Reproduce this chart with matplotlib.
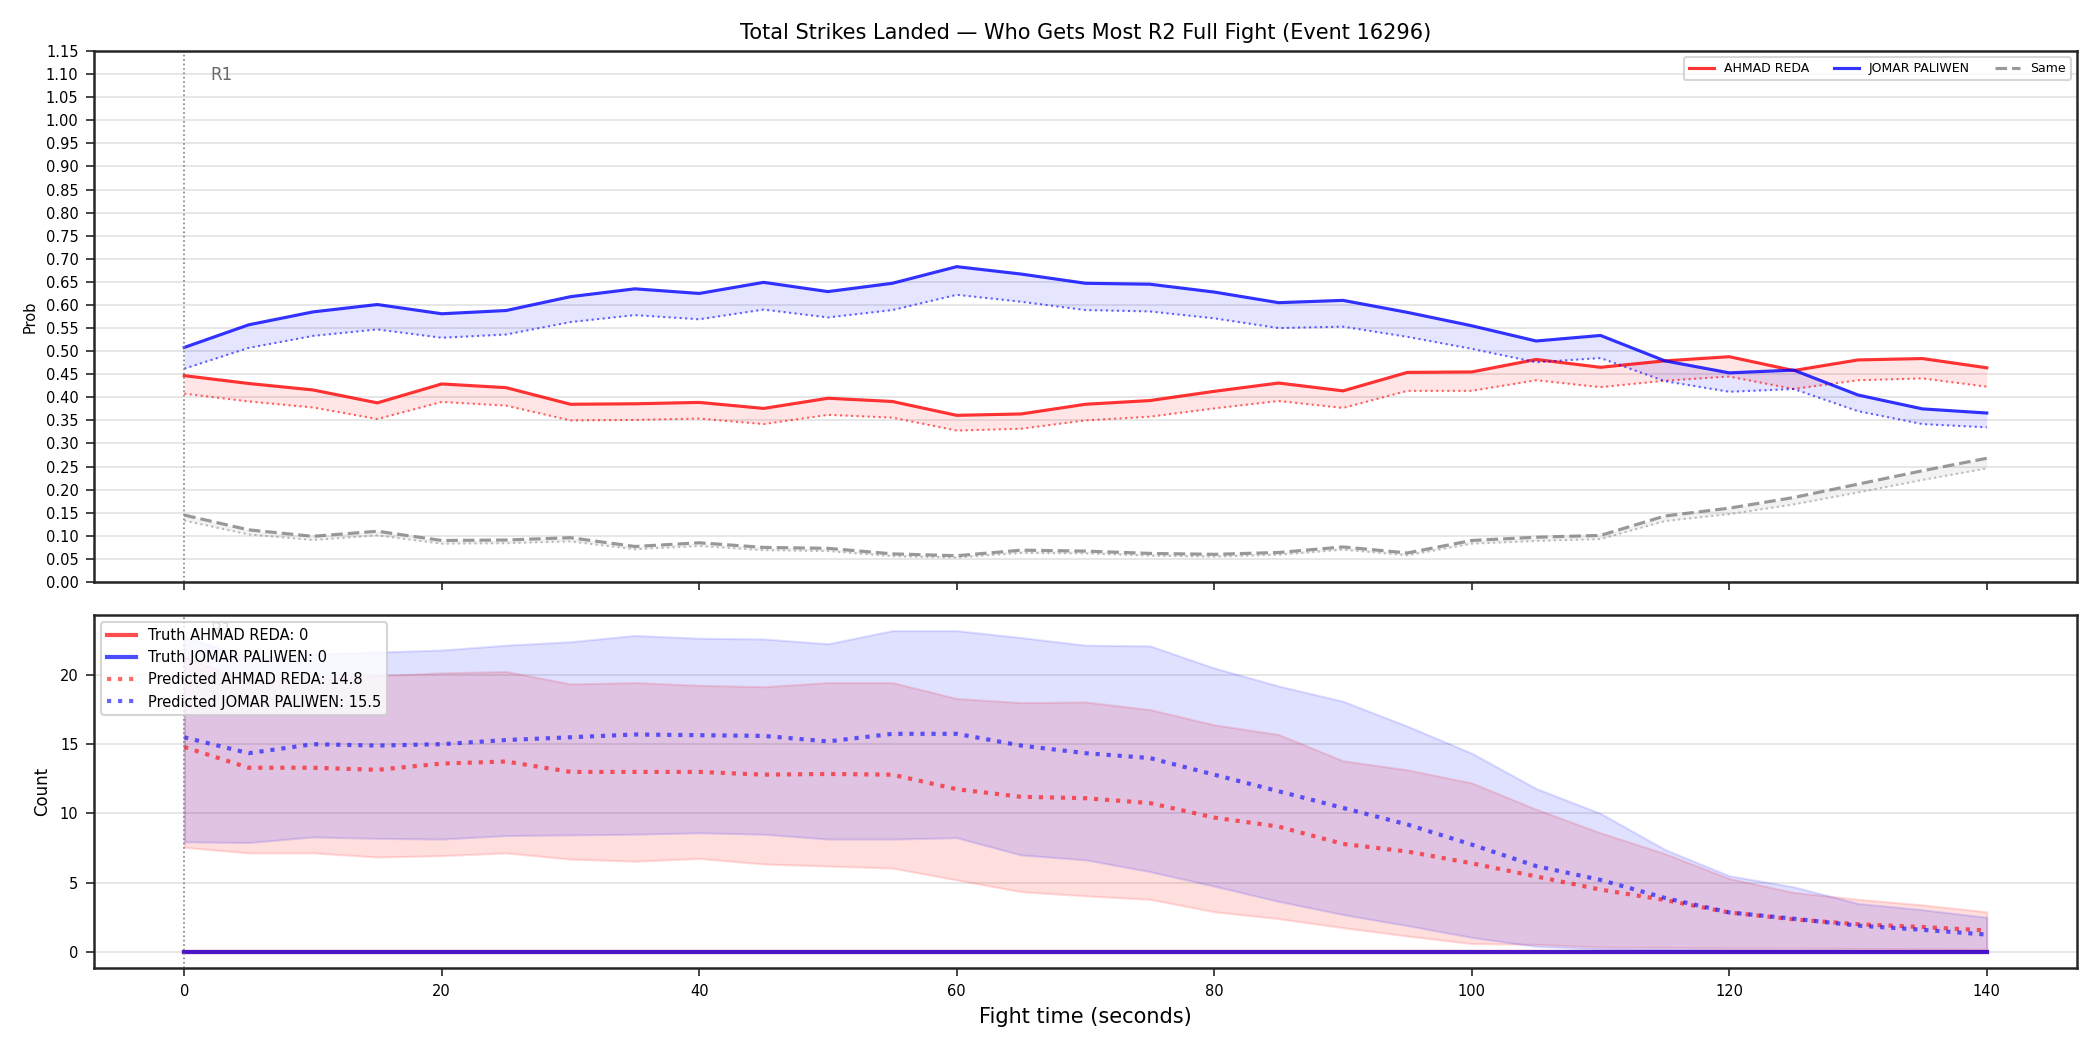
import matplotlib
matplotlib.use("Agg")
import matplotlib.pyplot as plt
import matplotlib.transforms as mtransforms
import numpy as np

# ---------------- data ----------------
t = list(range(0, 145, 5))

red_truth_prob = [0.447, 0.430, 0.416, 0.388, 0.429, 0.421, 0.385, 0.386, 0.389, 0.376,
                  0.398, 0.391, 0.361, 0.364, 0.385, 0.393, 0.413, 0.431, 0.414, 0.454,
                  0.455, 0.482, 0.465, 0.479, 0.488, 0.458, 0.481, 0.484, 0.464]
red_pred_prob = [0.408, 0.391, 0.378, 0.353, 0.390, 0.382, 0.350, 0.351, 0.354, 0.342,
                 0.362, 0.356, 0.328, 0.332, 0.350, 0.358, 0.376, 0.392, 0.377, 0.414,
                 0.414, 0.437, 0.422, 0.436, 0.445, 0.418, 0.437, 0.441, 0.423]
blue_truth_prob = [0.508, 0.557, 0.585, 0.601, 0.581, 0.588, 0.618, 0.635, 0.625, 0.649,
                   0.629, 0.647, 0.683, 0.667, 0.647, 0.645, 0.628, 0.605, 0.610, 0.584,
                   0.555, 0.522, 0.534, 0.479, 0.453, 0.459, 0.405, 0.375, 0.366]
blue_pred_prob = [0.462, 0.507, 0.533, 0.547, 0.529, 0.536, 0.563, 0.578, 0.569, 0.590,
                  0.573, 0.589, 0.622, 0.607, 0.589, 0.586, 0.571, 0.550, 0.553, 0.531,
                  0.505, 0.476, 0.485, 0.435, 0.412, 0.418, 0.370, 0.342, 0.335]
same_truth_prob = [0.145, 0.113, 0.099, 0.110, 0.090, 0.091, 0.096, 0.077, 0.085, 0.075,
                   0.073, 0.061, 0.057, 0.069, 0.067, 0.062, 0.060, 0.064, 0.076, 0.063,
                   0.090, 0.097, 0.101, 0.143, 0.160, 0.183, 0.212, 0.241, 0.268]
same_pred_prob = [0.133, 0.103, 0.091, 0.101, 0.083, 0.084, 0.088, 0.071, 0.078, 0.069,
                  0.067, 0.056, 0.053, 0.063, 0.062, 0.057, 0.055, 0.059, 0.070, 0.058,
                  0.083, 0.089, 0.093, 0.132, 0.147, 0.168, 0.194, 0.221, 0.246]

red_truth_count = [0] * 29
blue_truth_count = [0] * 29
red_pred_count = [14.8, 13.3, 13.3, 13.15, 13.6, 13.75, 13.0, 13.0, 13.0, 12.8,
                  12.85, 12.8, 11.75, 11.2, 11.1, 10.75, 9.7, 9.05, 7.8, 7.25,
                  6.4, 5.45, 4.5, 3.75, 2.85, 2.35, 2.0, 1.8, 1.55]
blue_pred_count = [15.5, 14.35, 15.0, 14.9, 15.0, 15.3, 15.5, 15.7, 15.65, 15.6,
                   15.2, 15.75, 15.75, 14.9, 14.35, 14.0, 12.8, 11.6, 10.4, 9.2,
                   7.75, 6.2, 5.2, 3.9, 2.85, 2.4, 1.9, 1.6, 1.25]
red_upper = [21.3, 19.5, 19.7, 19.95, 20.15, 20.25, 19.35, 19.45, 19.25, 19.15,
             19.45, 19.45, 18.3, 18.0, 18.05, 17.5, 16.4, 15.7, 13.8, 13.15,
             12.2, 10.3, 8.6, 7.1, 5.3, 4.3, 3.8, 3.4, 2.9]
red_lower = [7.55, 7.15, 7.15, 6.85, 6.95, 7.15, 6.7, 6.55, 6.75, 6.35,
             6.2, 6.05, 5.2, 4.35, 4.05, 3.8, 2.9, 2.4, 1.75, 1.15,
             0.6, 0.55, 0.35, 0.33, 0.28, 0.28, 0.25, 0.22, 0.2]
blue_upper = [22.8, 21.2, 21.5, 21.65, 21.8, 22.15, 22.4, 22.85, 22.65, 22.6,
              22.25, 23.2, 23.2, 22.7, 22.15, 22.1, 20.5, 19.2, 18.1, 16.3,
              14.35, 11.8, 10.0, 7.4, 5.5, 4.7, 3.5, 3.05, 2.5]
blue_lower = [7.95, 7.9, 8.3, 8.2, 8.15, 8.4, 8.45, 8.5, 8.6, 8.5,
              8.15, 8.15, 8.25, 7.0, 6.65, 5.8, 4.75, 3.65, 2.7, 1.9,
              1.05, 0.4, 0.2, 0.17, 0.12, 0.11, 0.1, 0.1, 0.1]

yticks_prob = [round(0.05 * i, 2) for i in range(24)]

# ---------------- figure ----------------
fig = plt.figure(figsize=(14, 7), dpi=150)
ax1 = fig.add_axes([0.0448, 0.4457, 0.9442, 0.5057])
ax2 = fig.add_axes([0.0448, 0.0781, 0.9442, 0.3366], sharex=ax1)

spine_c = "#262626"
for ax in (ax1, ax2):
    for s in ax.spines.values():
        s.set_color(spine_c)
        s.set_linewidth(1.2)
    ax.grid(axis="y", color="#e3e3e3", linewidth=0.8)
    ax.set_axisbelow(True)
    ax.tick_params(axis="both", labelsize=7, color=spine_c, length=4)

# ---- top panel ----
ax1.plot(t, red_truth_prob, color="red", alpha=0.8, lw=1.5, label="AHMAD REDA")
ax1.plot(t, red_pred_prob, color="red", alpha=0.6, lw=1.0, ls=":")
ax1.fill_between(t, red_pred_prob, red_truth_prob, color="red", alpha=0.1, lw=0)
ax1.plot(t, blue_truth_prob, color="blue", alpha=0.8, lw=1.5, label="JOMAR PALIWEN")
ax1.plot(t, blue_pred_prob, color="blue", alpha=0.6, lw=1.0, ls=":")
ax1.fill_between(t, blue_pred_prob, blue_truth_prob, color="blue", alpha=0.1, lw=0)
ax1.plot(t, same_truth_prob, color="gray", alpha=0.8, lw=1.5, ls="--", label="Same")
ax1.plot(t, same_pred_prob, color="gray", alpha=0.5, lw=1.0, ls=":")
ax1.fill_between(t, same_pred_prob, same_truth_prob, color="gray", alpha=0.1, lw=0)

ax1.set_ylim(0, 1.15)
ax1.set_yticks(yticks_prob)
ax1.set_yticklabels([f"{v:.2f}" for v in yticks_prob])
ax1.set_ylabel("Prob", fontsize=7)
ax1.tick_params(axis="x", labelbottom=False)
ax1.axvline(0, color="gray", ls=":", lw=0.8)
tr1 = mtransforms.blended_transform_factory(ax1.transData, ax1.transAxes)
ax1.text(2, 0.955, "R1", transform=tr1, fontsize=8, color="dimgray", va="center", ha="left")
ax1.set_title("Total Strikes Landed \u2014 Who Gets Most R2 Full Fight (Event 16296)", fontsize=10)
ax1.legend(loc="upper right", ncol=3, fontsize=6)

# ---- bottom panel ----
ax2.fill_between(t, red_lower, red_upper, color="red", alpha=0.13, lw=1)
ax2.fill_between(t, blue_lower, blue_upper, color="blue", alpha=0.12, lw=1)
ax2.plot(t, red_truth_count, color="red", alpha=0.7, lw=2, label="Truth AHMAD REDA: 0")
ax2.plot(t, blue_truth_count, color="blue", alpha=0.7, lw=2, label="Truth JOMAR PALIWEN: 0")
ax2.plot(t, red_pred_count, color="red", alpha=0.6, lw=2, ls=":",
         label=f"Predicted AHMAD REDA: {red_pred_count[0]}")
ax2.plot(t, blue_pred_count, color="blue", alpha=0.6, lw=2, ls=":",
         label=f"Predicted JOMAR PALIWEN: {blue_pred_count[0]}")
ax2.axvline(0, color="gray", ls=":", lw=0.8)
tr2 = mtransforms.blended_transform_factory(ax2.transData, ax2.transAxes)
ax2.text(2, 0.955, "R1", transform=tr2, fontsize=8, color="dimgray", va="center", ha="left",
         zorder=1)
ax2.set_ylabel("Count", fontsize=8)
ax2.set_xlabel("Fight time (seconds)", fontsize=10)
ax2.set_yticks([0, 5, 10, 15, 20])
ax2.set_xticks([0, 20, 40, 60, 80, 100, 120, 140])
leg2 = ax2.legend(loc="upper left", fontsize=7)
leg2.set_zorder(10)

fig.savefig("out.png", dpi=150)
